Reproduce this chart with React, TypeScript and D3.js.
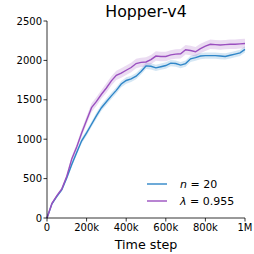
import * as d3 from "d3";

const steps = [
  0, 25, 50, 75, 100, 125, 150, 175, 200, 225, 250, 275, 300, 325, 350, 375, 400,
  425, 450, 475, 500, 525, 550, 575, 600, 625, 650, 675, 700, 725, 750, 775, 800,
  825, 850, 875, 900, 925, 950, 975, 1000,
].map((k) => k * 1000);

const nStepMean = [
  0, 180, 275, 360, 510, 680, 830, 980, 1080, 1190, 1300, 1400, 1475, 1550, 1620,
  1700, 1745, 1765, 1800, 1860, 1930, 1925, 1905, 1920, 1935, 1965, 1960, 1940,
  1960, 2020, 2035, 2055, 2060, 2060, 2060, 2055, 2050, 2065, 2080, 2095, 2140,
];
const nStepErr = [
  0, 10, 15, 20, 25, 30, 30, 35, 35, 35, 40, 40, 40, 40, 40, 40, 40, 40, 40, 40,
  40, 40, 40, 40, 40, 40, 40, 40, 40, 40, 40, 40, 40, 40, 40, 40, 40, 40, 40, 40, 40,
];

const lambdaMean = [
  0, 185, 285, 370, 530, 750, 900, 1080, 1240, 1400, 1480, 1570, 1650, 1740, 1810,
  1840, 1875, 1910, 1960, 1975, 1980, 2010, 2055, 2050, 2050, 2070, 2080, 2085,
  2135, 2125, 2110, 2150, 2180, 2205, 2200, 2195, 2200, 2205, 2205, 2210, 2215,
];
const lambdaErr = [
  0, 10, 15, 20, 25, 35, 40, 45, 50, 55, 55, 55, 60, 60, 60, 60, 60, 60, 60, 60,
  60, 60, 60, 60, 60, 60, 60, 60, 60, 60, 60, 60, 60, 60, 60, 60, 60, 60, 60, 60, 60,
];

const yTicks = [0, 500, 1000, 1500, 2000, 2500];
const xTicks = [0, 200000, 400000, 600000, 800000, 1000000];
const xTickLabels = ["0", "200k", "400k", "600k", "800k", "1M"];

const BLUE = "#2f86c8";
const PURPLE = "#9a4fbf";

const W = 254;
const H = 254;
const margin = { top: 21, right: 9, bottom: 36, left: 47 };

export default function App() {
  const innerW = W - margin.left - margin.right;
  const innerH = H - margin.top - margin.bottom;

  const x = d3.scaleLinear().domain([0, 1000000]).range([0, innerW]);
  const y = d3.scaleLinear().domain([0, 2500]).range([innerH, 0]);

  const line = d3
    .line<number>()
    .x((_, i) => x(steps[i]))
    .y((d) => y(d));

  const band = (mean: number[], err: number[]) =>
    d3
      .area<number>()
      .x((_, i) => x(steps[i]))
      .y0((d, i) => y(d - err[i]))
      .y1((d, i) => y(d + err[i]))(mean) || "";

  const series = [
    { mean: nStepMean, err: nStepErr, color: BLUE },
    { mean: lambdaMean, err: lambdaErr, color: PURPLE },
  ];

  const font = "DejaVu Sans, sans-serif";

  return (
    <svg
      width={W}
      height={H}
      style={{ position: "absolute", left: 0, top: 0, background: "#fff" }}
      fontFamily={font}
    >
      <g transform={`translate(${margin.left},${margin.top})`}>
        {series.map((s, i) => (
          <path key={"b" + i} d={band(s.mean, s.err)} fill={s.color} opacity={0.2} />
        ))}
        {series.map((s, i) => (
          <path
            key={"l" + i}
            d={line(s.mean) || ""}
            fill="none"
            stroke={s.color}
            strokeWidth={1.4}
          />
        ))}

        {/* left axis */}
        <line x1={0} x2={0} y1={0} y2={innerH} stroke="#000" strokeWidth={0.8} />
        {yTicks.map((t) => (
          <g key={t} transform={`translate(0,${y(t)})`}>
            <line x1={-3.5} x2={0} stroke="#000" strokeWidth={0.8} />
            <text x={-5} dy="0.35em" textAnchor="end" fontSize={10} fill="#000">
              {t}
            </text>
          </g>
        ))}

        {/* bottom axis */}
        <line x1={0} x2={innerW} y1={innerH} y2={innerH} stroke="#000" strokeWidth={0.8} />
        {xTicks.map((t, i) => (
          <g key={t} transform={`translate(${x(t)},${innerH})`}>
            <line y1={0} y2={3.5} stroke="#000" strokeWidth={0.8} />
            <text y={13} textAnchor="middle" fontSize={10} fill="#000">
              {xTickLabels[i]}
            </text>
          </g>
        ))}

        <text x={innerW / 2} y={innerH + 31} textAnchor="middle" fontSize={12.7} fill="#000">
          Time step
        </text>
        <text x={innerW / 2} y={-4} textAnchor="middle" fontSize={15.8} fill="#000">
          Hopper-v4
        </text>

        {/* legend */}
        <g transform="translate(100,163)">
          <line x1={0} x2={20} y1={0} y2={0} stroke={BLUE} strokeWidth={1.4} />
          <text x={33} dy="0.35em" fontSize={11} fill="#000">
            <tspan fontStyle="italic">n</tspan> = 20
          </text>
          <line x1={0} x2={20} y1={17} y2={17} stroke={PURPLE} strokeWidth={1.4} />
          <text x={33} y={17} dy="0.35em" fontSize={11} fill="#000">
            <tspan fontStyle="italic">λ</tspan> = 0.955
          </text>
        </g>
      </g>
    </svg>
  );
}
